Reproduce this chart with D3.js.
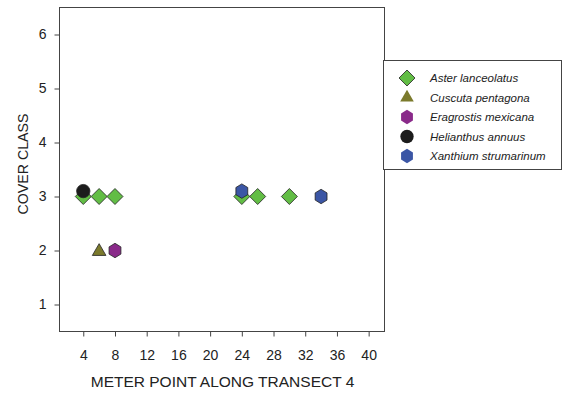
<!DOCTYPE html>
<html><head><meta charset="utf-8">
<script src="https://cdn.jsdelivr.net/npm/d3@7"></script>
<style>body{margin:0;background:#fff}svg{display:block}text{font-family:"Liberation Sans",Arial,sans-serif;fill:#222}</style>
</head><body>
<script>
const species = ["Aster lanceolatus","Cuscuta pentagona","Eragrostis mexicana","Helianthus annuus","Xanthium strumarinum"];
const colors = ["#62bd45","#7b7a2c","#8a2a8a","#1c1c1c","#3b56a5"];
const shapes = ["diamond","triangle","hexagon","circle","hexagon"];
const asterX = [4,6,8,24,26,30];
const asterY = [3,3,3,3,3,3];
const cuscutaX = [6];
const cuscutaY = [2];
const eragrostisX = [8];
const eragrostisY = [2];
const helianthusX = [4];
const helianthusY = [3.1];
const xanthiumX = [24,34];
const xanthiumY = [3.1,3];
const xTicks = [4,8,12,16,20,24,28,32,36,40];
const yTicks = [1,2,3,4,5,6];

const seriesX = [asterX,cuscutaX,eragrostisX,helianthusX,xanthiumX];
const seriesY = [asterY,cuscutaY,eragrostisY,helianthusY,xanthiumY];

const W=573,H=397;
const L=59.5,T=7.5,R=384.5,B=331.5;
const svg=d3.select("body").append("svg").attr("width",W).attr("height",H);
const x=d3.scaleLinear().domain([1,42]).range([L,R]);
const y=d3.scaleLinear().domain([0.5,6.5]).range([B,T]);

svg.append("rect").attr("x",L).attr("y",T).attr("width",R-L).attr("height",B-T)
  .attr("fill","none").attr("stroke","#444").attr("stroke-width",1);

const xa=svg.append("g").attr("transform",`translate(0,${B})`)
  .call(d3.axisBottom(x).tickValues(xTicks).tickFormat(d3.format("d")).tickSize(5).tickPadding(14).tickSizeOuter(0));
const ya=svg.append("g").attr("transform",`translate(${L},0)`)
  .call(d3.axisLeft(y).tickValues(yTicks).tickFormat(d3.format("d")).tickSize(5).tickPadding(8).tickSizeOuter(0));
[xa,ya].forEach(a=>{a.attr("font-size",null).attr("font-family",null);
  a.select(".domain").remove();a.selectAll("line").attr("stroke","#444");
  a.selectAll("text").style("font-size","14px").attr("fill","#222");});

svg.append("text").attr("x",(L+R)/2+0.5).attr("y",386.5).attr("text-anchor","middle")
  .style("font-size","15.5px").text("METER POINT ALONG TRANSECT 4");
svg.append("text").attr("transform",`translate(28,164) rotate(-90)`).attr("text-anchor","middle")
  .attr("textLength",101).attr("lengthAdjust","spacingAndGlyphs")
  .style("font-size","14px").text("COVER CLASS");

function sym(shape){
  const sizes={diamond:120,triangle:80,hexagon:120,circle:140};
  if(shape==="hexagon"){
    const r=7.2;const pts=d3.range(6).map(i=>{const a=Math.PI/3*i-Math.PI/2;return [r*Math.cos(a)*0.95,r*Math.sin(a)];});
    return "M"+pts.map(p=>p.join(",")).join("L")+"Z";
  }
  if(shape==="diamond"){const r=8;return `M0,${-r}L${r},0L0,${r}L${-r},0Z`;}
  const t={triangle:d3.symbolTriangle,circle:d3.symbolCircle}[shape];
  return d3.symbol().type(t).size(sizes[shape])();
}

species.forEach((s,i)=>{
  const pts=seriesX[i].map((v,j)=>[v,seriesY[i][j]]);
  svg.append("g").selectAll("path").data(pts).join("path")
    .attr("d",sym(shapes[i]))
    .attr("transform",d=>`translate(${x(d[0])},${y(d[1])-(shapes[i]==="triangle"?-1:0)})`)
    .attr("fill",colors[i]).attr("stroke","#222").attr("stroke-width",0.8);
});

// legend
const lg=svg.append("g");
lg.append("rect").attr("x",383.5).attr("y",60.5).attr("width",178).attr("height",109)
  .attr("fill","#fff").attr("stroke","#444");
species.forEach((s,i)=>{
  const yy=78+i*19.5;
  lg.append("path").attr("d",sym(shapes[i])).attr("transform",`translate(407,${yy})`)
    .attr("fill",colors[i]).attr("stroke",shapes[i]==="diamond"?"#222":"none").attr("stroke-width",0.8);
  lg.append("text").attr("x",430).attr("y",yy+4).style("font-size","11.5px").style("font-style","italic").text(s);
});
</script>
</body></html>
